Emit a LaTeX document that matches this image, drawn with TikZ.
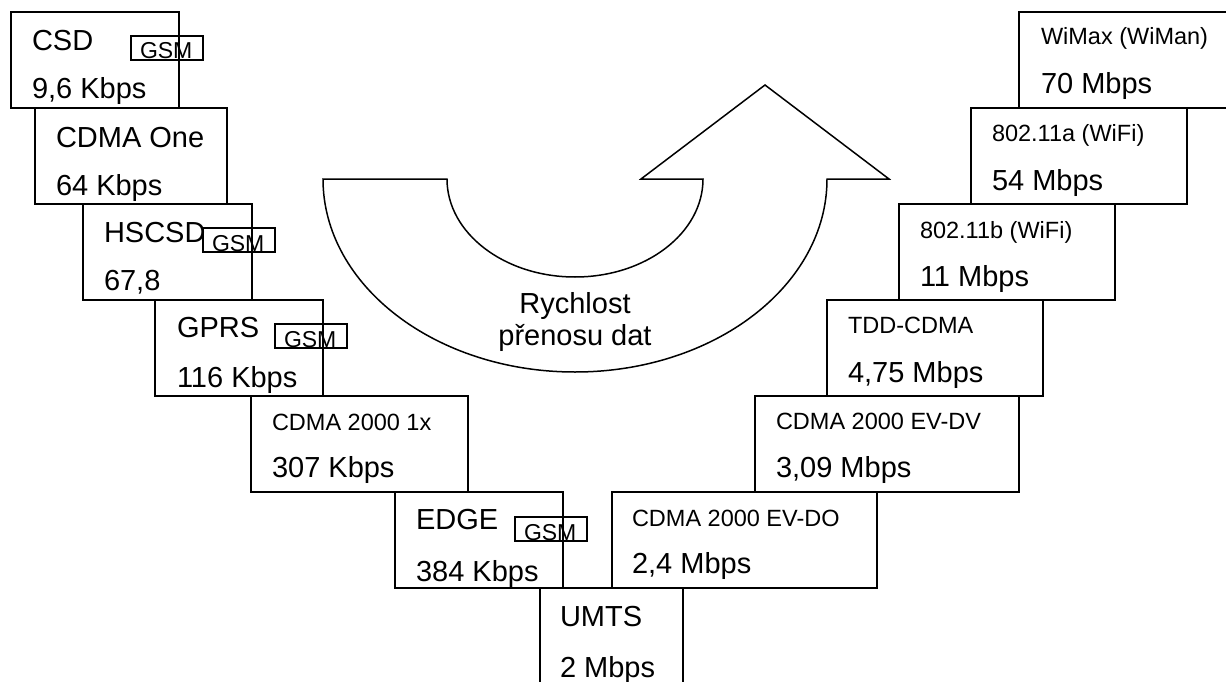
\documentclass[tikz,border=0pt]{standalone}
\usepackage{fontspec}
\setmainfont{Liberation Sans}
\newcommand\lgfont{\fontsize{29}{33}\selectfont}
\newcommand\smfont{\fontsize{23.5}{27}\selectfont}
\newcommand\gsmfont{\fontsize{23}{26}\selectfont}
\tikzset{
  techbox/.style={draw, line width=2pt, anchor=north west, inner sep=0pt, outer sep=0pt, minimum height=96pt},
  gsmbox/.style={draw, line width=1.5pt, anchor=north west, inner sep=0pt, outer sep=0pt, minimum width=72pt, minimum height=24pt},
  lbl/.style={anchor=base west, inner sep=0pt, outer sep=0pt, font=\lgfont},
  slbl/.style={anchor=base west, inner sep=0pt, outer sep=0pt, font=\smfont},
  glbl/.style={anchor=base west, inner sep=0pt, outer sep=0pt, font=\gsmfont},
  bigarrow/.style={draw, line width=1.5pt, line join=miter},
}
\begin{document}
\begin{tikzpicture}[x=1pt,y=-1pt]
\useasboundingbox (0,0) rectangle (1226,682);

% left staircase
\node[techbox, minimum width=168pt] (csd) at (11,12) {};
\node[lbl] (csd-a) at ([shift={(21,39)}]csd.north west) {CSD};
\node[lbl] (csd-b) at ([shift={(21,87)}]csd.north west) {9,6 Kbps};
\node[gsmbox] (csd-g) at (131,36) {};
\node[glbl] (csd-gt) at ([shift={(9,23)}]csd-g.north west) {GSM};

\node[techbox, minimum width=192pt] (one) at (35,108) {};
\node[lbl] (one-a) at ([shift={(21,39)}]one.north west) {CDMA One};
\node[lbl] (one-b) at ([shift={(21,87)}]one.north west) {64 Kbps};

\node[techbox, minimum width=169pt] (hscsd) at (83,204) {};
\node[lbl] (hscsd-a) at ([shift={(21,38)}]hscsd.north west) {HSCSD};
\node[lbl] (hscsd-b) at ([shift={(21,86)}]hscsd.north west) {67,8};
\node[gsmbox] (hscsd-g) at (203,228) {};
\node[glbl] (hscsd-gt) at ([shift={(9,23)}]hscsd-g.north west) {GSM};

\node[techbox, minimum width=168pt] (gprs) at (155,300) {};
\node[lbl] (gprs-a) at ([shift={(22,37)}]gprs.north west) {GPRS};
\node[lbl] (gprs-b) at ([shift={(22,87)}]gprs.north west) {116 Kbps};
\node[gsmbox] (gprs-g) at (275,324) {};
\node[glbl] (gprs-gt) at ([shift={(9,23)}]gprs-g.north west) {GSM};

\node[techbox, minimum width=217pt] (onex) at (251,396) {};
\node[slbl] (onex-a) at ([shift={(21,34)}]onex.north west) {CDMA 2000 1x};
\node[lbl] (onex-b) at ([shift={(21,81)}]onex.north west) {307 Kbps};

\node[techbox, minimum width=168pt] (edge) at (395,492) {};
\node[lbl] (edge-a) at ([shift={(21,37)}]edge.north west) {EDGE};
\node[lbl] (edge-b) at ([shift={(21,89)}]edge.north west) {384 Kbps};
\node[gsmbox] (edge-g) at (515,517) {};
\node[glbl] (edge-gt) at ([shift={(9,23)}]edge-g.north west) {GSM};

% bottom step, open below the frame
\node[techbox, minimum width=143pt, minimum height=130pt] (umts) at (540,588) {};
\node[lbl] (umts-a) at ([shift={(20,38)}]umts.north west) {UMTS};
\node[lbl] (umts-b) at ([shift={(20,89)}]umts.north west) {2 Mbps};

% right staircase
\node[techbox, minimum width=265pt] (evdo) at (612,492) {};
\node[slbl] (evdo-a) at ([shift={(20,34)}]evdo.north west) {CDMA 2000 EV-DO};
\node[lbl] (evdo-b) at ([shift={(20,81)}]evdo.north west) {2,4 Mbps};

\node[techbox, minimum width=264pt] (evdv) at (755,396) {};
\node[slbl] (evdv-a) at ([shift={(21,33)}]evdv.north west) {CDMA 2000 EV-DV};
\node[lbl] (evdv-b) at ([shift={(21,81)}]evdv.north west) {3,09 Mbps};

\node[techbox, minimum width=216pt] (tdd) at (827,300) {};
\node[slbl] (tdd-a) at ([shift={(21,33)}]tdd.north west) {TDD-CDMA};
\node[lbl] (tdd-b) at ([shift={(21,82)}]tdd.north west) {4,75 Mbps};

\node[techbox, minimum width=216pt] (wifib) at (899,204) {};
\node[slbl] (wifib-a) at ([shift={(21,34)}]wifib.north west) {802.11b (WiFi)};
\node[lbl] (wifib-b) at ([shift={(21,82)}]wifib.north west) {11 Mbps};

\node[techbox, minimum width=216pt] (wifia) at (971,108) {};
\node[slbl] (wifia-a) at ([shift={(21,34)}]wifia.north west) {802.11a (WiFi)};
\node[lbl] (wifia-b) at ([shift={(21,82)}]wifia.north west) {54 Mbps};

% top step, open past the right frame
\node[techbox, minimum width=230pt] (wimax) at (1019,12) {};
\node[slbl] (wimax-a) at ([shift={(22,33)}]wimax.north west) {WiMax (WiMan)};
\node[lbl] (wimax-b) at ([shift={(22,82)}]wimax.north west) {70 Mbps};

% curved arrow pointing up
\draw[bigarrow] (323,179) -- (447,179)
  arc[start angle=180, end angle=0, x radius=128, y radius=98]
  -- (641,179) -- (765,85) -- (889,179) -- (827,179)
  arc[start angle=0, end angle=180, x radius=252, y radius=193]
  -- cycle;
\node[anchor=base, inner sep=0pt, font=\lgfont] (rate-a) at (575,313) {Rychlost};
\node[anchor=base, inner sep=0pt, font=\lgfont] (rate-b) at (575,345) {přenosu dat};
\end{tikzpicture}
\end{document}
